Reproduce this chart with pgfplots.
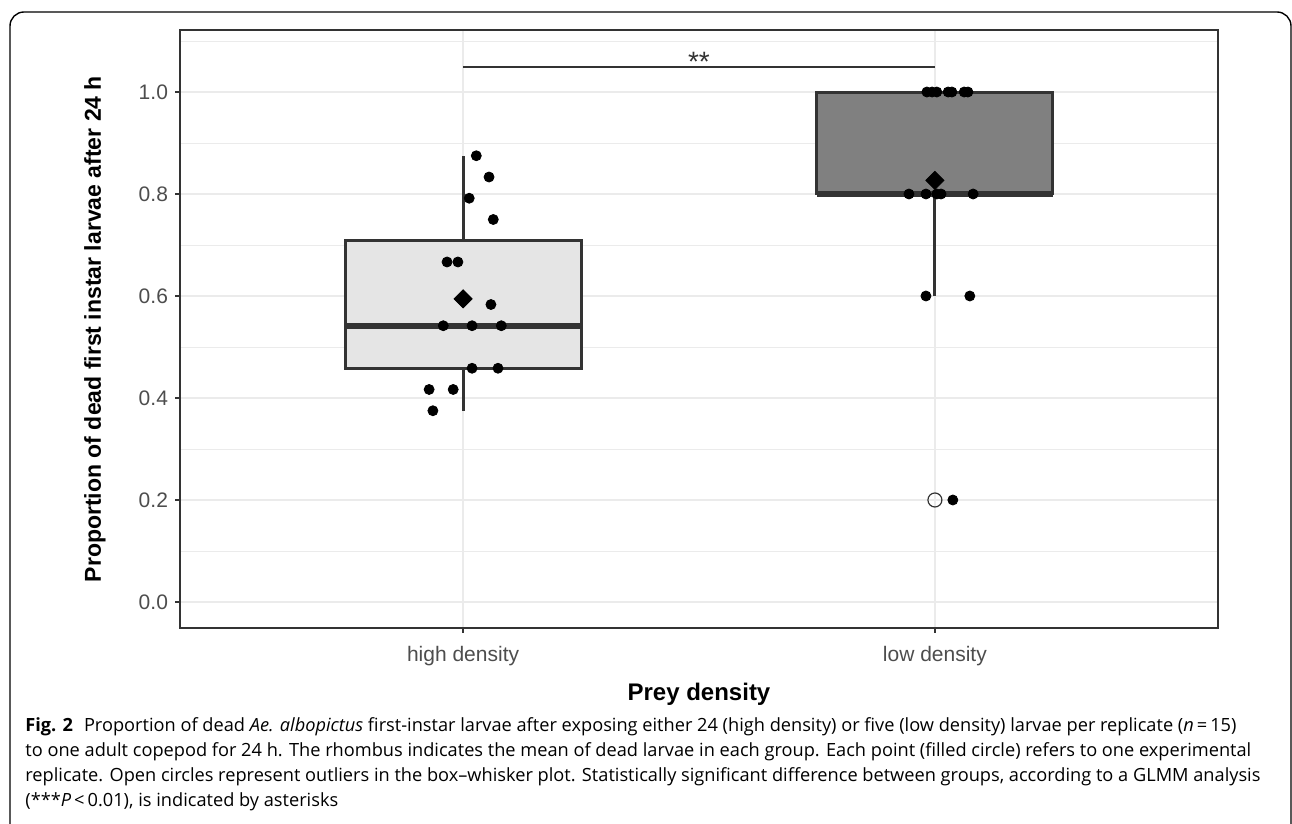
\documentclass[border=0pt]{standalone}
\usepackage{pgfplots}
\pgfplotsset{compat=1.18}
\usepgfplotslibrary{statistics}
\usepackage{fontspec}
\setmainfont{Liberation Sans}
\newfontfamily\capfont{Open Sans}
\definecolor{gridc}{HTML}{EBEBEB}
\definecolor{framec}{HTML}{333333}
\definecolor{ticktext}{HTML}{4D4D4D}
\definecolor{boxlight}{HTML}{E5E5E5}
\definecolor{boxdark}{HTML}{808080}

\pgfplotstableread{
x y
1.028 0.8750
1.055 0.8333
1.013 0.7917
1.064 0.7500
0.966 0.6667
0.989 0.6667
1.059 0.5833
0.958 0.5417
1.019 0.5417
1.081 0.5417
1.019 0.4583
1.074 0.4583
0.928 0.4167
0.979 0.4167
0.936 0.3750
}\highpts

\pgfplotstableread{
x y
1.983 1.0
1.994 1.0
2.004 1.0
2.028 1.0
2.036 1.0
2.062 1.0
2.070 1.0
1.945 0.8
1.981 0.8
2.004 0.8
2.013 0.8
2.081 0.8
1.981 0.6
2.074 0.6
2.038 0.2
}\lowpts

\begin{document}
\begin{tikzpicture}
\useasboundingbox (0,0) rectangle (646pt,412pt);
\begin{axis}[
  at={(90pt,98pt)}, anchor=south west,
  scale only axis, width=519pt, height=299pt,
  xmin=0.4, xmax=2.6, ymin=-0.051, ymax=1.1216,
  axis line style={framec, line width=0.8pt},
  xtick={1,2}, xticklabels={high density, low density},
  ytick={0,0.2,0.4,0.6,0.8,1.0},
  minor ytick={0.1,0.3,0.5,0.7,0.9,1.1},
  grid=both,
  major grid style={gridc, line width=0.75pt},
  minor grid style={gridc, line width=0.45pt},
  tick align=outside, tick pos=left,
  major tick length=2.5pt, minor tick length=0pt,
  tick style={framec, line width=0.6pt},
  yticklabel style={font=\fontsize{10.5}{12}\selectfont, text=ticktext,
    /pgf/number format/.cd, fixed, fixed zerofill, precision=1, assume math mode=true},
  xticklabel style={font=\fontsize{10.5}{12}\selectfont, text=ticktext, yshift=-3pt},
  boxplot/draw direction=y,
  clip=false,
]
\addplot[fill=boxlight, draw=framec, line width=1.5pt,
  boxplot prepared={lower whisker=0.375, lower quartile=0.4583, median=0.5417,
    upper quartile=0.7083, upper whisker=0.875, draw position=1, box extend=0.5,
    whisker extend=0, every median/.style={line width=3pt}}]
  coordinates {};
\addplot[fill=boxdark, draw=framec, line width=1.5pt,
  boxplot prepared={lower whisker=0.6, lower quartile=0.8, median=0.8,
    upper quartile=1.0, upper whisker=1.0, draw position=2, box extend=0.5,
    whisker extend=0, every median/.style={line width=3pt}}]
  coordinates {};
\addplot[only marks, mark=o, mark size=3.5pt, mark options={draw=framec, fill=white, line width=0.6pt}]
  coordinates {(2,0.2)};
\addplot[only marks, mark=*, mark size=2.5pt, black] table[x=x,y=y] {\highpts};
\addplot[only marks, mark=*, mark size=2.5pt, black] table[x=x,y=y] {\lowpts};
\addplot[only marks, mark=square*, mark size=3.2pt, mark options={rotate=45}, black]
  coordinates {(1,0.5944) (2,0.8267)};
\addplot[framec, line width=1pt] coordinates {(1,1.05) (2,1.05)};
\node[anchor=base, inner sep=0pt, font=\fontsize{14}{15}\selectfont, text=framec] at (axis cs:1.5,1.04) {**};
\end{axis}
\node[rotate=90, font=\bfseries\fontsize{11.5}{13}\selectfont] at (47.5pt,247.5pt)
  {Proportion of dead first instar larvae after 24 h};
\node[font=\bfseries\fontsize{12}{14}\selectfont] at (349.5pt,65pt) {Prey density};
\draw[line width=0.7pt, rounded corners=7pt] (5pt,-5pt) -- (5pt,406pt) -- (645.5pt,406pt) -- (645.5pt,-5pt);
\begin{scope}[every node/.style={anchor=base west, inner sep=0pt, font=\capfont\fontsize{9.1}{10}\selectfont}]
\node at (12.5pt,46pt) {\textbf{Fig. 2}\hspace{0.6em}Proportion of dead \textit{Ae. albopictus} first-instar larvae after exposing either 24 (high density) or five (low density) larvae per replicate (\textit{n}\,=\,15)};
\node at (12.5pt,33.5pt) {to one adult copepod for 24 h. The rhombus indicates the mean of dead larvae in each group. Each point (filled circle) refers to one experimental};
\node at (12.5pt,21pt) {replicate. Open circles represent outliers in the box–whisker plot. Statistically significant difference between groups, according to a GLMM analysis};
\node at (12.5pt,8.5pt) {(***\textit{P}\,<\,0.01), is indicated by asterisks};
\end{scope}
\end{tikzpicture}
\end{document}
